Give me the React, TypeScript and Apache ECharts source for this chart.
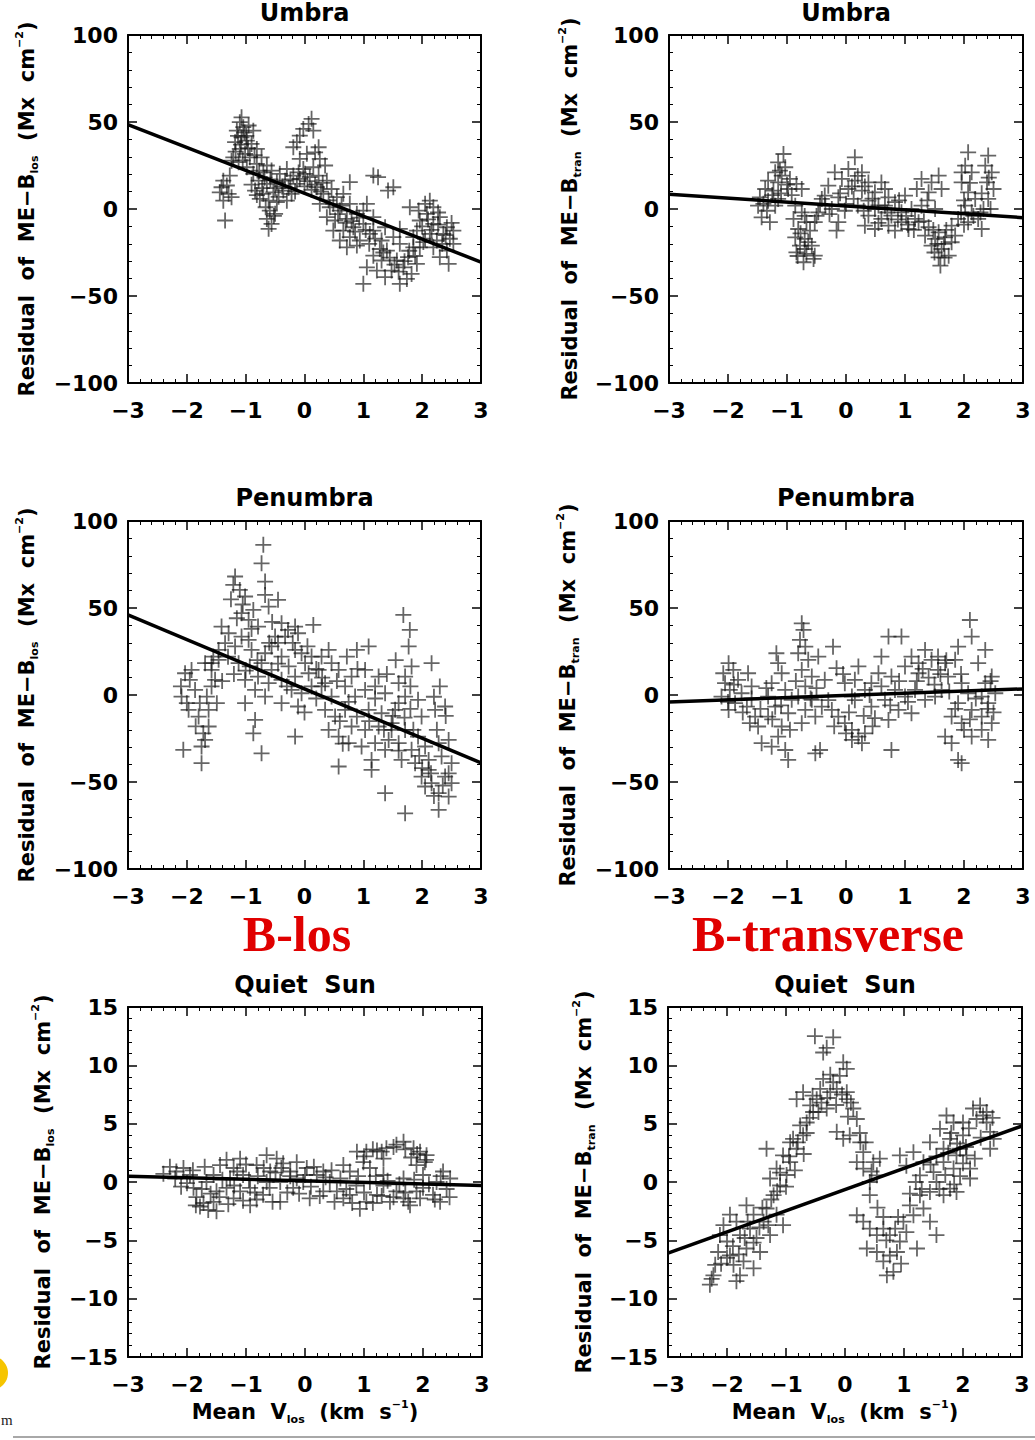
import React, { useEffect, useRef } from 'react';
import * as echarts from 'echarts';

// ---------- data ----------
const xTickValues = [-3, -2, -1, 0, 1, 2, 3];
const panelTitles = ['Umbra', 'Umbra', 'Penumbra', 'Penumbra', 'Quiet  Sun', 'Quiet  Sun'];
const groupLabels = ['B-los', 'B-transverse'];

const umbraLos = [
  [-1.38,16.3],[-1.32,13.5],[-1.44,9.6],[-1.29,8.7],[-1.38,4.8],[-1.35,-6.6],[-1.27,19.2],[-1.41,12.5],[-1.24,6.8],
  [-1.07,52.7],[-1.1,49.9],[-1.04,47],[-1.15,45.1],[-0.95,48],[-0.87,45],[-1.07,41.2],[-0.98,39.3],[-1.18,38.4],[-0.9,37.4],[-0.81,34.5],[-1.1,34.5],[-1.01,31.7],[-1.21,29.7],[-0.93,29.7],[-0.73,29.7],[-1.12,26.9],[-0.81,25.9],[-0.64,25],[-0.98,24],[-1.24,27.8],
  [-0.87,20.2],[-0.7,21.1],[-0.56,22.1],[-0.42,20.2],[-0.3,23],[-0.19,19.2],[-0.78,16.3],[-0.64,14.4],[-0.47,15.4],[-0.33,16.3],[-0.13,14.4],[-0.84,10.6],[-0.7,8.7],[-0.53,9.6],[-0.36,10.6],[-0.22,8.7],[-0.61,4.8],[-0.47,3.9],[-0.76,5.8],[-0.3,4.8],[-0.59,-0.9],[-0.64,-5.7],[-0.56,-8.6],[-0.61,-11.4],[-0.5,-2.8],[-0.08,17.3],[0.01,20.2],
  [0.12,51.8],[0.07,48.9],[-0.02,46],[-0.08,42.2],[0.15,45.1],[-0.13,38.4],[-0.19,35.5],[0.24,35.5],[0.18,32.6],[0.04,31.7],[-0.08,28.8],[0.26,28.8],[0.35,25],[0.15,24],[-0.02,23],[0.09,18.3],[0.24,19.2],[0.38,16.3],
  [0.21,12.5],[0.46,11.5],[0.32,8.7],[0.55,6.8],[0.66,8.7],[0.26,3],[0.43,1],[0.6,-0.9],[0.77,3],[0.38,-4.7],[0.52,-6.6],[0.72,-5.7],[0.89,-2.8],[0.49,-12.4],[0.66,-12.4],[0.83,-10.5],[1.0,-8.6],[0.6,-18.1],[0.77,-16.2],[0.94,-18.1],[1.11,-14.3],[0.72,-22],[0.89,-21],[0.77,15.4],[1.0,-0.9],[1.17,-4.7],[1.06,3],
  [1.17,19.2],[1.25,18.3],[1.51,12.5],[1.42,10.6],
  [1.06,-33.5],[1.0,-43],[1.17,-26.8],[1.31,-29.6],[1.4,-23.9],[1.48,-35.4],[1.37,-39.2],[1.62,-43],[1.57,-29.6],[1.68,-33.5],[1.76,-27.7],[1.82,-37.3],[1.91,-31.5],[1.85,-22],[1.62,-20],[1.51,-16.2],[1.31,-18.1],[1.17,-12.4],[1.37,-10.5],[1.62,-11.4],[1.74,-40.2],[1.23,-35.4],
  [2.13,4.8],[2.19,1],[2.08,-2.8],[2.3,-4.7],[1.96,-6.6],[2.19,-8.6],[2.42,-10.5],[1.91,-12.4],[2.13,-14.3],[2.36,-14.3],[2.53,-12.4],[1.85,-16.2],[2.05,-17.1],[2.25,-18.1],[2.47,-17.1],[1.96,-22],[2.19,-22],[2.42,-23.9],[2.53,-20],[2.3,-27.7],[2.45,-31.5],[1.79,1],[1.94,-0.9],
  [-1.13,42],[-1.02,44],[-0.96,35],[-1.05,28],[-0.85,31],[-0.77,22],[-0.68,18],[-0.58,17],[-0.5,12],[-0.44,7],[-0.38,13],[-0.27,12],[-0.24,17],[-0.16,10],[-0.1,21],[0.0,13],[0.05,16],[0.12,11],[0.18,14],[0.28,10],[0.31,15],[0.41,5],[0.49,3],[0.57,-3],[0.63,2],[0.7,-8],[0.8,-7],[0.86,-13],[0.93,-5],[1.04,-12],[1.1,-20],[1.2,-17],[1.28,-23],[1.34,-25],[1.45,-28],[1.53,-32],[1.6,-36],[1.7,-30],[1.78,-24],[1.88,-27],[2.0,-10],[2.02,-19],[2.1,-6],[2.16,-12],[2.27,-9],[2.34,-20],[2.4,-15],[2.5,-8],[2.27,-2],[2.05,3],[-0.72,12],[-0.66,1],[-0.81,8],[-0.9,14],[-0.52,-4],[-1.17,33],[-1.08,37],[-0.99,42]
];
const umbraTran = [
  [-1.06,31.6],[-1.15,26.8],[-1.03,24],[-1.2,21.1],[-1.09,19.2],[-0.95,17.3],[-1.32,16.3],[-1.15,15.3],[-0.84,14.4],[-1.37,11.5],[-1.23,10.6],[-0.98,11.5],[-0.75,11.5],[-1.46,6.7],[-1.32,4.8],[-1.15,5.8],[-1.49,1.9],[-1.34,-1],[-1.43,-4.8],[-1.29,-7.6],[-1.2,1.9],
  [-0.86,1.9],[-0.75,-1.9],[-0.89,-5.7],[-0.67,-7.6],[-0.81,-11.5],[-0.61,-12.4],[-0.86,-16.3],[-0.7,-17.2],[-0.78,-21.1],[-0.58,-21.1],[-0.84,-24.9],[-0.67,-25.8],[-0.53,-26.8],[-0.72,-30.6],[-0.55,-28.7],[-0.53,-7.6],[-0.47,-1.9],[-0.44,2.9],
  [0.15,29.7],[0.04,23],[0.27,21.1],[-0.19,21.1],[-0.07,17.3],[0.15,16.3],[0.38,15.3],[-0.3,13.4],[0.04,11.5],[0.27,10.6],[0.49,9.6],[-0.36,7.7],[-0.13,6.7],[0.13,5.8],[0.38,4.8],[-0.24,0],[-0.02,-1],[-0.13,-7.6],[-0.16,-12.4],[0.6,15.3],[-0.41,5.8],[0.66,11.5],
  [0.49,0],[0.66,1.9],[0.83,3.9],[1.0,7.7],[0.6,-5.7],[0.77,-3.8],[0.94,-1.9],[1.11,0],[0.32,-9.6],[0.49,-11.5],[0.72,-9.6],[0.94,-7.6],[1.17,-5.7],[0.83,-12.4],[1.06,-11.5],[0.72,6.7],[0.38,-3.8],
  [1.28,17.3],[1.45,15.3],[1.57,19.2],[1.2,11.5],[1.4,9.6],[1.62,11.5],[1.28,1.9],[1.51,0],[1.23,-7.6],[1.4,-10.5],[1.57,-13.4],[1.34,-15.3],[1.51,-17.2],[1.68,-16.3],[1.45,-21.1],[1.62,-23],[1.79,-19.1],[1.57,-27.8],[1.74,-26.8],[1.6,-32.5],[1.85,-15.3],[1.79,-9.6],[1.9,-5.7],
  [2.07,32.6],[2.02,24.9],[2.13,21.1],[1.96,15.3],[2.07,9.6],[2.19,5.8],[2.02,1.9],[2.13,-1.9],[2.24,-5.7],[2.07,-7.6],[2.41,30.7],[2.36,24.9],[2.47,21.1],[2.39,15.3],[2.5,11.5],[2.41,5.8],[2.33,0],[2.3,-11.5],[1.96,21.1],
  [-1.12,22],[-1.0,14],[-1.25,8],[-1.1,9],[-0.92,8],[-1.4,3],[-0.7,-4],[-0.77,-14],[-0.64,-19],[-0.82,-27],[-0.7,-23],[-0.5,-4],[-0.35,2],[-0.28,-3],[-0.1,9],[0.0,3],[0.1,13],[0.2,19],[0.32,13],[0.45,6],[0.55,2],[0.2,2],[0.3,-1],[0.55,-8],[0.7,-2],[0.88,-6],[1.02,-4],[0.9,5],[1.05,-9],[1.15,-12],[1.32,-7],[1.38,5],[1.48,-12],[1.55,-20],[1.66,-20],[1.7,-12],[1.5,-25],[1.67,-28],[1.95,-2],[2.0,5],[2.1,15],[2.16,-4],[2.28,-2],[2.45,0],[2.42,18],[2.3,9],[2.0,-9]
];
const penumbraLos = [
  [-2.03,12.5],[-1.95,8.7],[-2.09,-0.9],[-2.0,-4.7],[-1.97,-8.5],[-2.06,-31.5],[-1.75,-39.2],[-1.69,-25.8],[-1.72,-22],[-1.8,-12.4],[-1.63,-8.5],[-1.66,-0.9],[-1.58,4.9],[-1.58,14.4],[-1.69,18.3],[-1.55,22.1],[-1.46,20.2],[-1.92,14.4],[-1.78,-4.7],[-1.49,-4.7],[-1.63,-18.1],[-1.75,-29.6],[-1.86,2.9],[-1.52,8.7],
  [-0.7,86.3],[-0.73,75.7],[-0.67,65.2],[-1.18,68.1],[-1.21,63.3],[-1.1,60.4],[-1.01,56.6],[-1.07,47],[-1.15,44.1],[-0.95,43.2],[-0.87,48.9],[-0.45,54.7],[-0.67,57.5],[-0.61,50.8],[-0.79,39.3],[-1.41,39.3],[-1.29,35.5],[-1.07,33.6],[-0.39,41.3],[-0.28,37.4],[-0.16,39.3],[-0.5,33.6],[-0.33,33.6],[-0.11,35.5],[0.15,40.3],[-0.95,31.7],[-1.35,29.8],[-1.18,27.9],[-1.46,25.9],[-1.58,18.3],
  [-0.9,25.9],[-0.67,24],[-0.56,27.9],[-0.39,22.1],[-0.16,25.9],[-0.05,24],[0.12,22.1],[-1.12,18.3],[-0.93,16.4],[-0.73,18.3],[-0.56,14.4],[-0.27,16.4],[0.01,18.3],[0.29,22.1],[0.41,25.9],[-1.01,8.7],[-0.79,10.6],[-0.61,6.8],[-0.39,8.7],[-0.16,10.6],[0.07,12.5],[0.24,14.4],[-0.84,3],[-0.67,-0.9],[-0.05,1],[0.12,4.9],[0.35,6.8],[-0.11,-6.6],[-0.84,-14.3],[-0.87,-22],[-0.73,-33.5],[-0.16,-23.9],[-1.01,-4.7],[-0.39,-4.7],[-0.22,3],
  [0.46,18.3],[0.58,14.4],[0.72,22.1],[0.89,25.9],[1.09,27.9],[0.8,10.6],[1.03,14.4],[1.26,10.6],[0.29,4.9],[0.46,-0.9],[0.69,4.9],[0.86,-0.9],[1.03,2.9],[1.2,4.9],[1.37,1],[0.35,-8.5],[0.52,-12.4],[0.69,-8.5],[0.89,-12.4],[1.09,-8.5],[1.31,-10.5],[1.54,-8.5],[0.41,-20.1],[0.58,-23.9],[0.8,-18.1],[1.03,-20.1],[1.26,-18.1],[1.48,-16.2],[0.75,-27.7],[0.97,-29.6],[1.2,-27.7],[1.43,-25.8],[0.58,-41.1],[1.14,-43],[1.37,-56.4],[1.6,6.8],[1.71,10.6],
  [1.68,46],[1.79,37.4],[1.77,27.9],[1.82,16.4],[2.16,18.3],[2.3,4.9],[2.39,-6.6],[2.22,-8.5],[1.99,-12.4],[1.71,-0.9],[1.6,-4.7],[1.93,-2.8],[1.71,-20.1],[1.93,-23.9],[1.6,-27.7],[1.82,-31.5],[2.05,-29.6],[2.28,-27.7],[2.45,-25.8],[1.65,-37.3],[1.88,-39.2],[2.11,-37.3],[2.33,-35.3],[2.5,-39.2],[1.99,-46.9],[2.16,-50.7],[2.39,-46.9],[2.5,-50.7],[2.05,-52.6],[2.28,-56.4],[2.45,-58.4],[1.71,-68],[2.28,-66],[2.11,-43],[1.48,-20.1],[1.37,-31.5],[1.14,-37.3],
  [-1.25,55],[-1.05,52],[-0.9,38],[-0.55,42],[-0.45,30],[-0.2,30],[0.05,28],[-0.6,30],[-0.8,20],[-1.3,22],[-1.2,12],[-1.4,8],[-1.0,14],[-0.45,18],[-0.3,5],[0.2,15],[0.3,10],[0.55,8],[0.2,-2],[0.0,-10],[0.6,-15],[0.75,-4],[1.1,-15],[1.2,-2],[1.35,-20],[1.5,-12],[1.6,-32],[1.7,-13],[1.8,-8],[1.85,-20],[1.95,-35],[2.0,-42],[2.15,-45],[2.2,-58],[2.35,-52],[2.45,-45],[2.25,-20],[2.4,-12],[2.2,-1],[1.4,12],[1.55,20],[1.8,5],[0.9,15],[0.65,-28],[-1.85,-18],[-2.1,5]
];
const penumbraTran = [
  [-1.99,18.3],[-2.08,12.5],[-1.91,14.4],[-2.05,6.8],[-1.83,8.7],[-1.97,2.9],[-2.11,-0.9],[-1.77,1],[-1.88,-4.7],[-1.66,12.5],[-1.6,4.9],[-1.99,-8.6],[-1.68,-6.7],[-1.54,-12.4],[-1.63,-16.2],[-1.49,-18.1],[-1.43,-27.7],
  [-1.18,24],[-1.15,18.3],[-1.09,12.5],[-1.26,6.8],[-1.03,2.9],[-1.32,-0.9],[-0.92,-2.8],[-1.2,-6.7],[-0.98,-10.5],[-1.32,-12.4],[-1.09,-18.1],[-1.15,-23.9],[-1.03,-31.6],[-0.98,-37.3],[-1.26,-29.7],[-0.75,41.2],[-0.72,37.4],[-0.78,31.7],[-0.69,27.8],[-0.81,24],[-0.64,20.2],[-0.75,14.4],[-0.58,10.6],[-0.69,4.9],[-0.81,-0.9],[-0.58,-2.8],[-0.69,-8.6],[-0.52,-12.4],[-0.75,-16.2],
  [-0.22,27.8],[-0.47,22.1],[-0.16,15.4],[-0.36,8.7],[-0.02,6.8],[-0.41,-6.7],[-0.24,-8.6],[-0.13,-12.4],[-0.02,-16.2],[0.1,-20.1],[0.21,-23.9],[0.32,-22],[0.27,-27.7],[0.1,-25.8],[-0.44,-31.6],[-0.52,-33.5],[0.21,16.4],[0.15,8.7],[0.32,2.9],[0.43,6.8],[0.1,-0.9],[0.43,-6.7],[0.49,-13.3],
  [0.72,33.6],[0.94,33.6],[0.6,22.1],[0.55,12.5],[0.77,10.6],[1.0,16.4],[1.11,22.1],[1.23,18.3],[1.34,25.9],[1.45,20.2],[1.56,14.4],[1.23,12.5],[0.83,2.9],[1.0,-0.9],[0.66,-2.8],[1.17,2.9],[1.34,-2.8],[0.89,-8.6],[1.11,-10.5],[0.72,-14.3],[0.77,-31.6],[1.51,-0.9],[1.56,22.1],[1.68,18.3],
  [2.1,43.1],[2.13,33.6],[1.9,27.8],[2.36,25.9],[1.85,20.2],[2.24,18.3],[1.73,10.6],[1.96,6.8],[2.36,6.8],[2.47,10.6],[2.07,1],[2.3,-0.9],[1.9,-4.7],[2.41,-4.7],[2.13,-8.6],[1.79,-12.4],[2.3,-12.4],[1.96,-16.2],[2.47,-16.2],[1.68,-23.9],[1.79,-27.7],[2.13,-23.9],[1.9,-37.3],[1.96,-39.2],[2.41,-25.8],[1.62,2.9],[2.53,1],
  [-2.0,-4],[-1.9,6],[-1.75,-10],[-1.6,-2],[-1.45,-8],[-1.35,4],[-1.25,-14],[-1.1,-6],[-0.95,-20],[-0.85,8],[-0.6,-2],[-0.5,4],[-0.3,-3],[-0.2,-18],[0.0,-22],[0.05,-10],[0.15,-3],[0.3,-12],[0.4,0],[0.6,5],[0.75,-6],[0.9,8],[1.05,-4],[1.2,8],[1.3,15],[1.4,10],[1.5,6],[1.6,12],[1.7,20],[1.75,2],[1.85,-8],[1.95,12],[2.0,-20],[2.1,-14],[2.2,-2],[2.3,-20],[2.4,-8],[2.5,-10],[2.45,8],[0.45,-18],[-0.05,12]
];
const quietLos = [
  [-2.29,1.3],[-2.18,0.9],[-2.06,1.2],[-1.95,0.6],[-2.0,-0.1],[-1.89,-0.5],[-1.84,-1.3],[-1.72,-1.8],[-1.64,-2.4],[-1.78,-2.1],[-1.55,-1.7],[-1.5,-0.8],[-1.67,0.0],[-1.44,1.45],[-1.33,1.9],[-1.21,1.2],[-1.1,2.0],[-1.27,0.3],[-1.05,0.6],[-1.33,-0.5],[-1.1,-0.8],[-0.93,-0.5],[-1.21,-1.4],[-0.93,-2.0],[-0.82,-1.5],[-0.71,-1.1],
  [-0.82,1.45],[-0.65,2.3],[-0.48,2.0],[-0.59,0.9],[-0.37,1.6],[-0.25,0.9],[-0.14,1.7],[-0.42,0.0],[-0.2,-0.5],[0.03,1.2],[0.2,0.6],[-0.03,0.0],[0.31,0.9],[0.42,0.0],[0.54,-0.8],[0.65,-1.4],[0.76,-1.1],[0.93,-2.3],[1.04,-1.7],[0.87,-0.3],[1.1,0.0],[1.33,-0.3],[1.55,-0.8],[1.67,-1.4],[1.78,-2.0],[1.44,-1.7],[1.89,-0.8],[2.0,-0.5],[2.17,-1.1],[2.29,-1.7],[2.34,0.9],[2.46,0.3],[2.23,0.0],[0.76,0.9],[0.65,1.45],[0.99,1.7],
  [0.88,2.6],[1.04,2.6],[1.22,2.7],[1.38,2.9],[1.55,3.2],[1.67,3.45],[1.84,2.9],[1.95,2.6],[2.06,2.3],[2.03,1.7],[1.89,1.45],[1.33,2.0],[1.1,1.2],
  [-1.5,-2.5],[-0.42,-1.7],[0.08,-1.4],[0.31,-0.8],[1.22,-1.1],[-0.14,0.3],[-0.65,0.0],[1.33,0.6],[1.67,0.3],[2.0,0.6],
  [-2.4,0.7],[-2.2,0.3],[-2.1,-0.4],[-1.9,1.0],[-1.85,-2.0],[-1.75,-0.6],[-1.7,1.3],[-1.6,-1.0],[-1.55,0.6],[-1.45,-1.3],[-1.4,0.2],[-1.3,-1.9],[-1.2,-0.3],[-1.15,0.9],[-1.05,-1.6],[-1.0,1.5],[-0.95,0.2],[-0.85,-0.9],[-0.8,0.5],[-0.7,1.2],[-0.6,-0.5],[-0.55,-1.7],[-0.5,0.8],[-0.4,1.2],[-0.3,-0.9],[-0.25,0.5],[-0.1,-1.0],[0.0,0.6],[0.1,-0.4],[0.15,1.3],[0.25,-1.2],[0.35,0.4],[0.45,1.0],[0.5,-1.7],[0.6,0.3],[0.7,-0.6],[0.8,-1.8],[0.9,0.5],[1.0,-0.9],[1.15,-1.8],[1.2,0.5],[1.3,-1.2],[1.4,0.1],[1.5,-1.3],[1.6,-0.2],[1.7,-0.9],[1.75,-1.7],[1.85,0.2],[1.95,-1.4],[2.1,-0.2],[2.2,-1.5],[2.3,0.5],[2.4,-0.6],[2.45,-1.3],[1.0,2.2],[1.15,2.8],[1.3,2.6],[1.5,3.0],[1.7,2.8],[1.9,2.4],[2.05,1.9],[1.8,2.1]
];
const quietTran = [
  [-2.29,-8.8],[-2.23,-8.0],[-2.2,-7.1],[-2.26,-8.3],[-2.12,-4.55],[-2.15,-6.0],[-2.0,-5.1],[-1.95,-6.3],[-1.89,-7.1],[-1.78,-8.0],[-1.84,-8.5],[-1.72,-6.8],[-1.67,-5.7],[-1.78,-4.55],[-1.84,-3.4],[-1.61,-4.0],[-1.5,-4.8],[-1.55,-2.8],[-1.38,-3.4],[-1.27,-4.55],[-1.33,-2.27],[-1.16,-2.8],[-1.05,-3.7],[-1.67,-2.0],[-1.95,-2.8],[-2.06,-3.7],[-1.44,-6.0],[-1.55,-7.4],
  [-1.21,-1.13],[-1.1,-0.3],[-1.27,0.3],[-0.99,0.6],[-1.16,1.15],[-0.93,1.7],[-1.05,2.28],[-1.33,2.85],[-0.82,2.85],[-0.88,3.7],[-0.71,4.0],[-0.76,4.85],[-0.65,5.1],[-0.93,3.4],[-0.82,7.1],[-0.71,7.7],[-0.59,6.56],[-0.54,6.0],[-0.48,7.1],[-0.42,7.98],[-0.37,8.84],[-0.31,6.3],[-0.25,7.7],[-0.2,8.55],[-0.51,12.5],[-0.2,12.4],[-0.37,11.1],[-0.31,11.5],[-0.03,10.26],[0.03,9.7],[-0.09,9.1],[-0.14,7.98],[0.03,7.1],[0.14,6.3],[0.03,7.7],[0.2,5.4],[-0.14,4.3],[-0.03,3.7],[0.08,4.0],[0.26,3.4],[0.31,2.56],[0.2,1.7],[0.31,1.15],[0.48,1.7],[0.54,0.57],[0.42,0.0],[0.59,2.0],[0.42,-1.13],
  [0.2,-2.85],[0.31,-3.4],[0.42,-4.0],[0.54,-4.55],[0.65,-4.0],[0.76,-4.55],[0.37,-5.7],[0.54,-6.0],[0.65,-6.8],[0.76,-6.3],[0.88,-6.0],[0.71,-8.0],[0.82,-7.7],[0.93,-5.1],[1.04,-4.3],[0.99,-3.4],[1.16,-2.85],[1.22,-5.7],[1.1,-2.0],[1.33,-2.27],[1.44,-3.4],[1.55,-4.55],[1.27,-1.13],[1.44,-0.85],
  [0.93,2.28],[1.16,2.56],[1.04,1.4],[1.33,1.7],[1.27,0.57],[1.5,0.85],[1.67,1.7],[1.55,0.0],[1.78,-0.57],[1.89,-0.85],[1.67,-1.13],[1.44,3.4],[1.61,4.56],[1.72,5.7],[1.84,5.1],[1.78,3.7],[1.95,2.85],[1.89,2.28],[2.06,2.28],[1.67,2.85],[2.0,4.0],[2.0,5.1],[2.12,1.15],[1.84,1.15],[2.17,6.3],[2.29,6.56],[2.23,5.4],[2.34,5.7],[2.4,5.1],[2.46,4.3],[2.52,3.7],[2.46,2.85],[2.12,0.3],
  [-2.1,-7],[-2.0,-6.5],[-1.9,-5.5],[-1.8,-6.2],[-1.7,-4.8],[-1.65,-3.4],[-1.55,-5.2],[-1.45,-3.9],[-1.4,-2.2],[-1.3,-3.7],[-1.25,-1.5],[-1.15,-0.8],[-1.1,0.8],[-1.0,-0.4],[-0.95,2.2],[-0.85,1.0],[-0.8,3.4],[-0.7,2.4],[-0.65,4.2],[-0.6,5.5],[-0.55,7.4],[-0.45,6.0],[-0.4,6.8],[-0.3,7.2],[-0.25,9.2],[-0.15,6.6],[-0.05,7.5],[0.1,6.8],[0.05,5.6],[0.25,4.2],[0.35,3.4],[0.45,0.9],[0.55,-2.2],[0.65,-3.0],[0.7,-5.0],[0.85,-4.0],[0.95,-7.0],[0.9,-3.0],[1.1,-1.0],[1.2,0.0],[1.3,-0.6],[1.45,1.5],[1.55,2.2],[1.6,-0.6],[1.75,2.5],[1.8,4.2],[1.9,3.3],[1.95,0.5],[2.05,3.0],[2.1,4.6],[2.2,2.0],[2.3,3.8],[2.4,6.0],[2.5,5.5],[1.7,0.6],[1.85,-0.2],[2.0,1.6]
];

// straight-line fits: [x, y] at both ends
const fitUmbraLos = [[-3, 48.5], [3, -30.5]];
const fitUmbraTran = [[-3, 8.5], [3, -5]];
const fitPenumbraLos = [[-3, 46], [3, -39]];
const fitPenumbraTran = [[-3, -4], [3, 3.5]];
const fitQuietLos = [[-3, 0.5], [3, -0.3]];
const fitQuietTran = [[-3, -6.1], [3, 4.8]];

// ---------- styling / layout ----------
const FONT = '"DejaVu Sans", sans-serif';
const PLUS = 'path://M7.1,0H8.9V7.1H16V8.9H8.9V16H7.1V8.9H0V7.1H7.1Z';

const panels = [
  { data: umbraLos, fit: fitUmbraLos, left: 128, top: 35, width: 353, height: 348, yMin: -100, yMax: 100, yInt: 50, sub: 'los', nameX: 27, titleY: 13 },
  { data: umbraTran, fit: fitUmbraTran, left: 669, top: 35, width: 354, height: 348, yMin: -100, yMax: 100, yInt: 50, sub: 'tran', nameX: 570, titleY: 13 },
  { data: penumbraLos, fit: fitPenumbraLos, left: 128, top: 521, width: 353, height: 348, yMin: -100, yMax: 100, yInt: 50, sub: 'los', nameX: 27, titleY: 498 },
  { data: penumbraTran, fit: fitPenumbraTran, left: 669, top: 521, width: 354, height: 348, yMin: -100, yMax: 100, yInt: 50, sub: 'tran', nameX: 568, titleY: 498 },
  { data: quietLos, fit: fitQuietLos, left: 128, top: 1007, width: 354, height: 350, yMin: -15, yMax: 15, yInt: 5, sub: 'los', nameX: 43, titleY: 985 },
  { data: quietTran, fit: fitQuietTran, left: 668, top: 1007, width: 354, height: 350, yMin: -15, yMax: 15, yInt: 5, sub: 'tran', nameX: 584, titleY: 985 },
];

const fmt = (v: number) => (v < 0 ? '\u2212' + Math.abs(v) : String(v));

function richStyles() {
  return {
    n: { fontFamily: FONT, fontSize: 21, fontWeight: 'bold', fill: '#000', lineHeight: 26 },
    s: { fontFamily: FONT, fontSize: 11, fontWeight: 'bold', fill: '#000', verticalAlign: 'bottom', lineHeight: 8 },
    p: { fontFamily: FONT, fontSize: 11, fontWeight: 'bold', fill: '#000', verticalAlign: 'top', lineHeight: 10 },
  };
}

function buildOption() {
  const grid: any[] = [];
  const xAxis: any[] = [];
  const yAxis: any[] = [];
  const series: any[] = [];
  const graphic: any[] = [];

  const axisLine = { show: true, onZero: false, lineStyle: { color: '#000', width: 2 } };
  const axisTick = { show: true, inside: true, length: 9, lineStyle: { color: '#000', width: 1.5 } };
  const minorTick = { show: true, splitNumber: 5, length: 4, lineStyle: { color: '#000', width: 1 } };
  const labelStyle = { color: '#000', fontFamily: FONT, fontSize: 22, fontWeight: 'bold' as const, lineHeight: 20 };

  panels.forEach((p, i) => {
    grid.push({ left: p.left, top: p.top, width: p.width, height: p.height, containLabel: false, show: false });
    const xBase = {
      gridIndex: i, type: 'value', min: -3, max: 3, interval: 1,
      axisLine, axisTick, minorTick, splitLine: { show: false },
    };
    xAxis.push({ ...xBase, position: 'bottom', axisLabel: { ...labelStyle, margin: 17, formatter: fmt, customValues: xTickValues } });
    xAxis.push({ ...xBase, position: 'top', axisLabel: { show: false } });
    const yBase = {
      gridIndex: i, type: 'value', min: p.yMin, max: p.yMax, interval: p.yInt,
      axisLine, axisTick, minorTick, splitLine: { show: false },
    };
    yAxis.push({ ...yBase, position: 'left', axisLabel: { ...labelStyle, margin: 10, formatter: fmt } });
    yAxis.push({ ...yBase, position: 'right', axisLabel: { show: false } });

    series.push({
      type: 'scatter', xAxisIndex: 2 * i, yAxisIndex: 2 * i, data: p.data,
      symbol: PLUS, symbolSize: 16, itemStyle: { color: 'rgba(20,20,20,0.82)' }, z: 2,
    });
    series.push({
      type: 'line', xAxisIndex: 2 * i, yAxisIndex: 2 * i, data: p.fit,
      symbol: 'none', showSymbol: false, lineStyle: { color: '#000', width: 3.5 }, z: 3,
    });

    const cx = p.left + p.width / 2;
    graphic.push({
      type: 'text', x: cx, y: p.titleY,
      style: { text: panelTitles[i], fill: '#000', fontFamily: FONT, fontSize: 24, fontWeight: 'bold', lineHeight: 24, align: 'center', verticalAlign: 'middle' },
    });
    graphic.push({
      type: 'text', x: p.nameX, y: p.top + p.height / 2, rotation: Math.PI / 2,
      style: {
        text: `{n|Residual  of  ME\u2212B}{s|${p.sub}}{n|  (Mx  cm}{p|\u22122}{n|)}`,
        align: 'center', verticalAlign: 'middle', rich: richStyles(),
      },
    });
    if (i >= 4) {
      graphic.push({
        type: 'text', x: cx, y: 1412,
        style: {
          text: '{n|Mean  V}{s|los}{n|  (km  s}{p|\u22121}{n|)}',
          align: 'center', verticalAlign: 'middle', rich: richStyles(),
        },
      });
    }
  });

  // red column labels
  const redStyle = { fill: '#e00000', fontFamily: '"Liberation Serif", serif', fontWeight: 'bold', fontSize: 50, lineHeight: 38, align: 'center', verticalAlign: 'middle' };
  graphic.push({ type: 'text', x: 297, y: 934, style: { ...redStyle, text: groupLabels[0] } });
  graphic.push({ type: 'text', x: 828, y: 934, style: { ...redStyle, text: groupLabels[1] } });

  // slide remnants at the bottom edge
  graphic.push({ type: 'circle', shape: { cx: -9, cy: 1373, r: 17 }, style: { fill: '#f6c500' } });
  graphic.push({ type: 'text', x: 1, y: 1420, style: { text: 'm', fill: '#222', fontFamily: '"Liberation Serif", serif', fontSize: 15, align: 'left', verticalAlign: 'middle' } });
  graphic.push({ type: 'line', shape: { x1: 13, y1: 1437, x2: 1035, y2: 1437 }, style: { stroke: '#a8a8a8', lineWidth: 2 } });

  return { animation: false, backgroundColor: '#fff', grid, xAxis, yAxis, series, graphic };
}

export default function App() {
  const ref = useRef<HTMLDivElement>(null);
  useEffect(() => {
    document.body.style.margin = '0';
    const chart = echarts.init(ref.current as HTMLDivElement, null, { renderer: 'svg' });
    chart.setOption(buildOption() as any);
    return () => chart.dispose();
  }, []);
  return <div ref={ref} style={{ position: 'absolute', left: 0, top: 0, width: 1035, height: 1440, background: '#fff' }} />;
}
